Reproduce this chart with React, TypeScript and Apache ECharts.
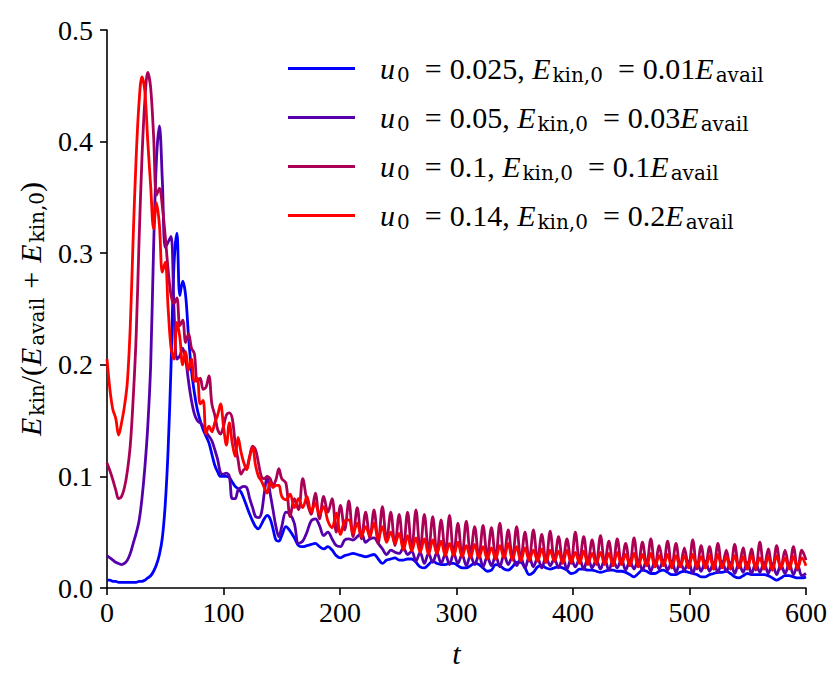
import React, { useEffect, useRef } from "react";
import * as echarts from "echarts";

// time samples
const tEarly = [
  0, 2.5, 5, 7.5,
  10, 12.5, 15, 17.5,
  20, 22.5, 25, 27.5,
  30, 32.5, 35, 37.5,
  40, 42.5, 45, 47.5,
  50, 52.5, 55, 57.5,
  60, 62.5, 65, 67.5,
  70, 72.5, 75, 77.5,
  80, 82.5, 85, 87.5,
  90, 92.5, 95, 97.5,
  100, 102.5, 105, 107.5,
  110, 112.5, 115, 117.5,
  120, 122.5, 125, 127.5,
  130, 132.5, 135, 137.5,
  140, 142.5, 145, 147.5,
  150,
];
const tLate = [
  153.6, 157.2, 160.8, 164.4, 168,
  171.6, 175.2, 178.8, 182.4, 186,
  189.6, 193.2, 196.8, 200.4, 204,
  207.6, 211.2, 214.8, 218.4, 222,
  225.6, 229.2, 232.8, 236.4, 240,
  243.6, 247.2, 250.8, 254.4, 258,
  261.6, 265.2, 268.8, 272.4, 276,
  279.6, 283.2, 286.8, 290.4, 294,
  297.6, 301.2, 304.8, 308.4, 312,
  315.6, 319.2, 322.8, 326.4, 330,
  333.6, 337.2, 340.8, 344.4, 348,
  351.6, 355.2, 358.8, 362.4, 366,
  369.6, 373.2, 376.8, 380.4, 384,
  387.6, 391.2, 394.8, 398.4, 402,
  405.6, 409.2, 412.8, 416.4, 420,
  423.6, 427.2, 430.8, 434.4, 438,
  441.6, 445.2, 448.8, 452.4, 456,
  459.6, 463.2, 466.8, 470.4, 474,
  477.6, 481.2, 484.8, 488.4, 492,
  495.6, 499.2, 502.8, 506.4, 510,
  513.6, 517.2, 520.8, 524.4, 528,
  531.6, 535.2, 538.8, 542.4, 546,
  549.6, 553.2, 556.8, 560.4, 564,
  567.6, 571.2, 574.8, 578.4, 582,
  585.6, 589.2, 592.8, 596.4, 600,
];

// u0 = 0.025
const blueEarly = [
  0.007, 0.007, 0.006, 0.006,
  0.005, 0.005, 0.005, 0.005,
  0.005, 0.005, 0.005, 0.006,
  0.006, 0.007, 0.009, 0.011,
  0.015, 0.021, 0.030, 0.045,
  0.075, 0.125, 0.200, 0.290,
  0.318, 0.262, 0.275, 0.262,
  0.225, 0.195, 0.175, 0.160,
  0.150, 0.142, 0.136, 0.130,
  0.120, 0.110, 0.104, 0.100,
  0.100, 0.100, 0.099, 0.095,
  0.091, 0.089, 0.086, 0.080,
  0.073, 0.066, 0.060, 0.055,
  0.053, 0.057, 0.062, 0.065,
  0.062, 0.053, 0.043, 0.042,
  0.047,
];
const blueLate = [
  0.055, 0.051, 0.045, 0.038, 0.037,
  0.038, 0.039, 0.040, 0.037, 0.035,
  0.037, 0.034, 0.029, 0.027, 0.029,
  0.030, 0.031, 0.030, 0.029, 0.028,
  0.029, 0.030, 0.026, 0.022, 0.025,
  0.026, 0.027, 0.025, 0.025, 0.026,
  0.026, 0.023, 0.019, 0.018, 0.021,
  0.024, 0.022, 0.021, 0.021, 0.022,
  0.022, 0.020, 0.018, 0.018, 0.020,
  0.022, 0.021, 0.018, 0.015, 0.016,
  0.021, 0.020, 0.017, 0.016, 0.019,
  0.023, 0.023, 0.018, 0.012, 0.014,
  0.019, 0.020, 0.018, 0.017, 0.018,
  0.019, 0.018, 0.016, 0.013, 0.014,
  0.017, 0.017, 0.016, 0.016, 0.015,
  0.014, 0.015, 0.016, 0.016, 0.015,
  0.015, 0.014, 0.012, 0.010, 0.013,
  0.016, 0.015, 0.013, 0.013, 0.015,
  0.016, 0.014, 0.012, 0.012, 0.014,
  0.015, 0.014, 0.013, 0.012, 0.010,
  0.010, 0.012, 0.013, 0.014, 0.014,
  0.015, 0.013, 0.010, 0.009, 0.011,
  0.013, 0.012, 0.012, 0.012, 0.012,
  0.011, 0.009, 0.007, 0.009, 0.011,
  0.011, 0.010, 0.009, 0.009, 0.010,
];

// u0 = 0.05
const purpleEarly = [
  0.029, 0.027, 0.025, 0.023,
  0.022, 0.021, 0.022, 0.025,
  0.031, 0.040, 0.049, 0.060,
  0.080, 0.108, 0.145, 0.200,
  0.305, 0.385, 0.414, 0.365,
  0.305, 0.310, 0.315, 0.250,
  0.205, 0.208, 0.215, 0.205,
  0.185, 0.168, 0.156, 0.150,
  0.148, 0.145, 0.140, 0.136,
  0.132, 0.124, 0.115, 0.103,
  0.102, 0.103, 0.100, 0.080,
  0.080, 0.088, 0.090, 0.091,
  0.090, 0.080, 0.072, 0.064,
  0.063, 0.067, 0.085, 0.100,
  0.085, 0.070, 0.055, 0.046,
  0.055,
];
const purpleLate = [
  0.068, 0.066, 0.058, 0.040, 0.042,
  0.050, 0.060, 0.062, 0.056, 0.047,
  0.050, 0.044, 0.038, 0.037, 0.043,
  0.044, 0.043, 0.046, 0.049, 0.041,
  0.044, 0.045, 0.040, 0.035, 0.030,
  0.034, 0.032, 0.031, 0.036, 0.030,
  0.033, 0.024, 0.032, 0.022, 0.031,
  0.023, 0.032, 0.022, 0.030, 0.021,
  0.031, 0.022, 0.030, 0.020, 0.029,
  0.021, 0.030, 0.019, 0.028, 0.020,
  0.029, 0.019, 0.030, 0.021, 0.028,
  0.020, 0.027, 0.018, 0.028, 0.019,
  0.027, 0.018, 0.028, 0.020, 0.026,
  0.018, 0.027, 0.017, 0.026, 0.019,
  0.026, 0.017, 0.027, 0.018, 0.025,
  0.017, 0.026, 0.016, 0.025, 0.018,
  0.026, 0.016, 0.024, 0.017, 0.025,
  0.016, 0.025, 0.015, 0.024, 0.017,
  0.025, 0.016, 0.024, 0.014, 0.023,
  0.016, 0.024, 0.013, 0.023, 0.015,
  0.024, 0.015, 0.023, 0.014, 0.024,
  0.015, 0.023, 0.013, 0.022, 0.014,
  0.023, 0.013, 0.022, 0.014, 0.023,
  0.013, 0.022, 0.012, 0.021, 0.013,
  0.022, 0.012, 0.021, 0.011, 0.013,
];

// u0 = 0.1
const magentaEarly = [
  0.112, 0.105, 0.097, 0.088,
  0.080, 0.082, 0.090, 0.105,
  0.128, 0.170, 0.225, 0.310,
  0.385, 0.437, 0.462, 0.448,
  0.405, 0.352, 0.358, 0.342,
  0.315, 0.285, 0.262, 0.255,
  0.260, 0.235, 0.240, 0.220,
  0.228, 0.215, 0.210, 0.185,
  0.188, 0.178, 0.180, 0.190,
  0.165, 0.155, 0.142, 0.138,
  0.145, 0.155, 0.157, 0.152,
  0.130, 0.115, 0.102, 0.106,
  0.108, 0.118, 0.127, 0.124,
  0.112, 0.100, 0.098, 0.100,
  0.098, 0.092, 0.097, 0.107,
  0.098,
];
const magentaLate = [
  0.094, 0.064, 0.080, 0.070, 0.098,
  0.078, 0.066, 0.085, 0.062, 0.082,
  0.068, 0.080, 0.050, 0.074, 0.052,
  0.078, 0.046, 0.072, 0.044, 0.068,
  0.045, 0.070, 0.040, 0.073, 0.042,
  0.068, 0.038, 0.066, 0.035, 0.068,
  0.034, 0.070, 0.033, 0.066, 0.032,
  0.064, 0.030, 0.061, 0.031, 0.065,
  0.029, 0.058, 0.028, 0.060, 0.030,
  0.055, 0.027, 0.056, 0.028, 0.054,
  0.026, 0.058, 0.027, 0.052, 0.026,
  0.055, 0.025, 0.050, 0.024, 0.052,
  0.025, 0.048, 0.023, 0.051, 0.024,
  0.046, 0.023, 0.044, 0.022, 0.050,
  0.023, 0.046, 0.022, 0.043, 0.021,
  0.047, 0.022, 0.042, 0.020, 0.044,
  0.021, 0.040, 0.020, 0.045, 0.019,
  0.041, 0.020, 0.044, 0.019, 0.038,
  0.020, 0.042, 0.018, 0.040, 0.019,
  0.036, 0.018, 0.043, 0.017, 0.038,
  0.018, 0.037, 0.017, 0.040, 0.018,
  0.034, 0.017, 0.039, 0.018, 0.036,
  0.017, 0.035, 0.016, 0.041, 0.017,
  0.035, 0.016, 0.038, 0.017, 0.034,
  0.018, 0.037, 0.016, 0.034, 0.025,
];

// u0 = 0.14
const redEarly = [
  0.205, 0.178, 0.160, 0.152,
  0.137, 0.148, 0.163, 0.185,
  0.235, 0.315, 0.385, 0.435,
  0.458, 0.445, 0.400, 0.360,
  0.322, 0.345, 0.325, 0.283,
  0.292, 0.250, 0.215, 0.205,
  0.238, 0.225, 0.200, 0.212,
  0.195, 0.205, 0.185, 0.188,
  0.165, 0.168, 0.138, 0.145,
  0.140, 0.148, 0.155, 0.165,
  0.145, 0.128, 0.148, 0.130,
  0.118, 0.135, 0.122, 0.112,
  0.106, 0.118, 0.126, 0.110,
  0.100, 0.096, 0.090, 0.085,
  0.095, 0.090, 0.092, 0.092,
  0.082,
];
const redLate = [
  0.079, 0.084, 0.072, 0.080, 0.072,
  0.082, 0.068, 0.076, 0.066, 0.073,
  0.060, 0.054, 0.067, 0.048, 0.060,
  0.061, 0.049, 0.058, 0.046, 0.055,
  0.047, 0.058, 0.044, 0.055, 0.041,
  0.050, 0.040, 0.049, 0.034, 0.047,
  0.033, 0.045, 0.032, 0.044, 0.030,
  0.043, 0.031, 0.042, 0.029, 0.040,
  0.029, 0.041, 0.028, 0.038, 0.027,
  0.039, 0.027, 0.037, 0.026, 0.036,
  0.026, 0.038, 0.027, 0.040, 0.025,
  0.037, 0.024, 0.036, 0.025, 0.034,
  0.024, 0.035, 0.023, 0.034, 0.024,
  0.033, 0.022, 0.034, 0.023, 0.032,
  0.022, 0.033, 0.021, 0.031, 0.022,
  0.032, 0.021, 0.031, 0.020, 0.032,
  0.021, 0.030, 0.020, 0.031, 0.019,
  0.030, 0.020, 0.031, 0.019, 0.029,
  0.020, 0.030, 0.018, 0.029, 0.019,
  0.029, 0.018, 0.030, 0.019, 0.028,
  0.018, 0.029, 0.017, 0.030, 0.018,
  0.028, 0.017, 0.029, 0.018, 0.028,
  0.017, 0.029, 0.018, 0.027, 0.017,
  0.028, 0.016, 0.029, 0.018, 0.027,
  0.017, 0.028, 0.018, 0.027, 0.020,
];

const seriesNames = ["s025", "s05", "s1", "s14"];
const legendLabels = [
  "{it|u}{sub|0}{eq|=}{rm|0.025, }{it|E}{sub|kin,0}{eq|=}{rm|0.01}{it|E}{sub|avail}",
  "{it|u}{sub|0}{eq|=}{rm|0.05, }{it|E}{sub|kin,0}{eq|=}{rm|0.03}{it|E}{sub|avail}",
  "{it|u}{sub|0}{eq|=}{rm|0.1, }{it|E}{sub|kin,0}{eq|=}{rm|0.1}{it|E}{sub|avail}",
  "{it|u}{sub|0}{eq|=}{rm|0.14, }{it|E}{sub|kin,0}{eq|=}{rm|0.2}{it|E}{sub|avail}",
];
const seriesColors = ["#0000ff", "#5500aa", "#aa0055", "#ff0000"];
const yAxisTitle = "{it|E}{sub|kin}{rm|/(}{it|E}{sub|avail}{op|+}{it|E}{sub|kin,0}{rm|)}";
const xAxisTitle = "t";

const SERIF = "'Liberation Serif', serif";
const SUBF = "'DejaVu Serif', serif";

export default function App() {
  const ref = useRef<HTMLDivElement>(null);

  useEffect(() => {
    document.body.style.margin = "0";
    if (!ref.current) return;
    const chart = echarts.init(ref.current, null, { renderer: "svg" });
    const t = tEarly.concat(tLate);
    const values = [
      blueEarly.concat(blueLate),
      purpleEarly.concat(purpleLate),
      magentaEarly.concat(magentaLate),
      redEarly.concat(redLate),
    ];
    const rich = {
      it: { fontFamily: SERIF, fontStyle: "italic", fontSize: 30, lineHeight: 32, color: "#000", padding: [0, 2, 0, 0] },
      rm: { fontFamily: SERIF, fontSize: 30, lineHeight: 32, color: "#000" },
      eq: { fontFamily: SERIF, fontSize: 30, lineHeight: 32, color: "#000", padding: [0, 8, 0, 15] },
      op: { fontFamily: SERIF, fontSize: 30, lineHeight: 32, color: "#000", padding: [0, 9, 0, 9] },
      sub: { fontFamily: SUBF, fontSize: 20, lineHeight: 20, padding: [13, 0, 0, 0], color: "#000" },
    };
    const labelMap: Record<string, string> = {};
    seriesNames.forEach((n, i) => (labelMap[n] = legendLabels[i]));

    chart.setOption({
      animation: false,
      backgroundColor: "#ffffff",
      grid: { left: 107, right: 24, top: 30, bottom: 104 },
      legend: {
        orient: "vertical",
        left: 288,
        top: 52,
        padding: 0,
        icon: "rect",
        itemWidth: 67,
        itemHeight: 3,
        itemGap: 16,
        data: seriesNames,
        formatter: (name: string) => labelMap[name],
        textStyle: { rich, padding: [0, 0, 0, 20] },
      },
      xAxis: {
        type: "value",
        min: 0,
        max: 600,
        interval: 100,
        name: xAxisTitle,
        nameLocation: "middle",
        nameGap: 50,
        nameTextStyle: { fontFamily: SERIF, fontStyle: "italic", fontSize: 30, color: "#000" },
        axisLine: { show: true, lineStyle: { color: "#000", width: 1.6 } },
        axisTick: { show: true, inside: false, length: 7, lineStyle: { color: "#000", width: 1.6 } },
        axisLabel: { fontFamily: SERIF, fontSize: 28, color: "#000", margin: 10 },
        splitLine: { show: false },
      },
      yAxis: {
        type: "value",
        min: 0,
        max: 0.5,
        interval: 0.1,
        name: yAxisTitle,
        nameLocation: "middle",
        nameRotate: 90,
        nameGap: 58,
        nameTextStyle: { rich },
        axisLine: { show: true, lineStyle: { color: "#000", width: 1.6 } },
        axisTick: { show: true, inside: false, length: 7, lineStyle: { color: "#000", width: 1.6 } },
        axisLabel: {
          fontFamily: SERIF,
          fontSize: 28,
          color: "#000",
          margin: 14,
          formatter: (v: number) => v.toFixed(1),
        },
        splitLine: { show: false },
      },
      series: seriesNames.map((n, i) => ({
        name: n,
        type: "line",
        showSymbol: false,
        symbol: "none",
        smooth: 0.35,
        color: seriesColors[i],
        lineStyle: { color: seriesColors[i], width: 2.8 },
        emphasis: { disabled: true },
        data: t.map((x, k) => [x, values[i][k]]),
        z: 2 + i,
      })),
    });
    return () => chart.dispose();
  }, []);

  return <div ref={ref} style={{ width: 830, height: 692 }} />;
}
